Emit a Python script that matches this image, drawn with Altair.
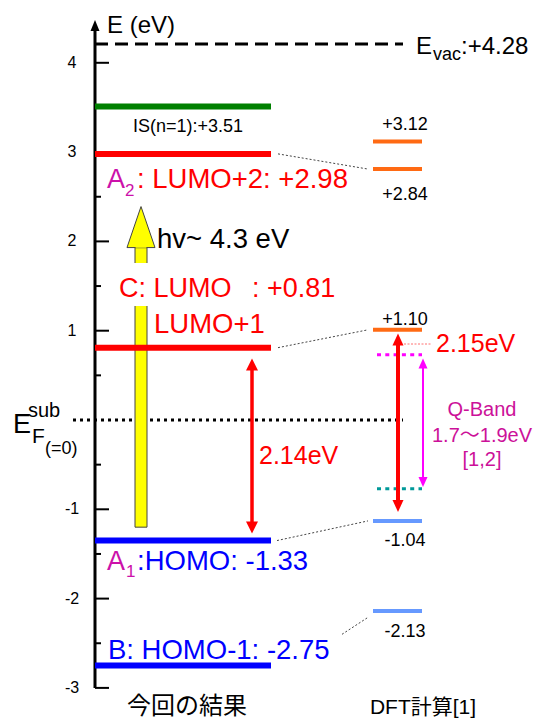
import altair as alt
import pandas as pd

# ---------------- data (energies in eV) ----------------
left_levels = ["IS(n=1)", "A2: LUMO+2", "C: LUMO / LUMO+1", "A1: HOMO", "B: HOMO-1"]
left_energy = [3.51, 2.98, 0.81, -1.35, -2.75]
left_colors = ["#008000", "#FF0000", "#FF0000", "#0000FF", "#0000FF"]
left_widths = [4, 6, 7, 6, 7]

dft_labels = ["+3.12", "+2.84", "+1.10", "-1.04", "-2.13"]
dft_energy = [3.12, 2.81, 1.01, -1.13, -2.14]
dft_colors = ["#FF6A13", "#FF6A13", "#FF6A13", "#6699FF", "#6699FF"]
dft_widths = [4, 4, 4, 5, 5]

evac_energy = 4.21
fermi_energy = 0.0
qband_levels = [0.73, -0.77]
qband_colors = ["#FF00FF", "#009999"]
gap_left = [0.69, -1.27]        # 2.14 eV arrow (tips)
gap_dft = [0.97, -1.03]         # 2.15 eV arrow (tips)
qband_arrow = [0.69, -0.75]     # Q-band arrow (tips)
photon = [-1.20, 1.93, 2.39]    # shaft bottom, head base, head tip
connect_from = [2.98, 0.81, -1.35, -2.40]
connect_to = [2.81, 1.01, -1.13, -2.21]
tick_major = [-3, -2, -1, 1, 2, 3, 4]
tick_minor = [-2.5, -1.5, -0.5, 0.5, 1.5, 2.5, 3.5]
axis_span = [-3.0, 4.37]
axis_tip = 4.48

# ---------------- layout ----------------
SANS = "'Liberation Sans', Arial, 'Noto Sans CJK JP', sans-serif"
CJK = "'Noto Sans CJK JP', sans-serif"
W, H = 527, 712
PX_PER_EV = 89.3
ZERO_PX = 412
YS = alt.Scale(domain=[(ZERO_PX - H) / PX_PER_EV, ZERO_PX / PX_PER_EV], nice=False, zero=False)


def X(px):
    return alt.value(px - 8)


def Yp(px):
    return alt.value(px - 8)


def Yf(field):
    return alt.Y(field, type="quantitative", scale=YS, axis=None)


def hlines(energies, x1, x2, color, width, dash=None, colors=None, widths=None):
    df = pd.DataFrame({"e": energies})
    kw = dict(strokeWidth=width)
    if dash is not None:
        kw["strokeDash"] = dash
    enc = dict(y=Yf("e"), x=X(x1), x2=X(x2))
    if colors is not None:
        df["c"] = colors
        enc["color"] = alt.Color("c:N", scale=None)
    else:
        kw["color"] = color
    if widths is not None:
        df["w"] = widths
        enc["strokeWidth"] = alt.StrokeWidth("w:Q", scale=None)
    return alt.Chart(df).mark_rule(**kw).encode(**enc)


def vline(e1, e2, x, color, width, off1=0, off2=0):
    df = pd.DataFrame({"a": [e1], "b": [e2]})
    return alt.Chart(df).mark_rule(color=color, strokeWidth=width, yOffset=off1, y2Offset=off2).encode(
        x=X(x), y=Yf("a"), y2=alt.Y2("b"))


def head(e, x, length, width, color, up=True, stroke=None):
    a = width / length
    s = 2 if up else -2
    path = f"M0,0L{a:.3f},{s}L{-a:.3f},{s}Z"
    kw = dict(shape=path, size=length ** 2, filled=True, fill=color, opacity=1)
    if stroke is not None:
        kw["stroke"] = stroke
        kw["strokeWidth"] = 1
    else:
        kw["strokeWidth"] = 0
    return alt.Chart(pd.DataFrame({"e": [e]})).mark_point(**kw).encode(x=X(x), y=Yf("e"))


def darrow(top, bot, x, color, lw, hl, hw):
    return [vline(top, bot, x, color, lw, off1=hl * 0.7, off2=-hl * 0.7),
            head(top, x, hl, hw, color, up=True),
            head(bot, x, hl, hw, color, up=False)]


def text(s, x, y_px=None, e=None, dy=0, size=27, color="black", align="left", font=SANS, weight="normal"):
    df = pd.DataFrame({"t": [s], "e": [e if e is not None else 0.0]})
    y = Yf("e") if e is not None else Yp(y_px)
    return alt.Chart(df).mark_text(align=align, baseline="alphabetic", dy=dy, fontSize=size, color=color,
                                   font=font, fontWeight=weight).encode(x=X(x), y=y, text="t:N")


layers = []

# Fermi level (dotted) and vacuum level (dashed)
layers.append(hlines([fermi_energy], 73, 403, "black", 3, dash=[3, 4]))
layers.append(hlines([evac_energy], 95, 403, "black", 3, dash=[13, 7]))

# energy axis
layers.append(vline(axis_span[0], axis_span[1], 95, "black", 3))
layers.append(head(axis_tip, 95, 11, 9, "black", up=True))
layers.append(hlines(tick_major, 95, 109, "black", 2))
layers.append(hlines(tick_minor, 95, 101, "black", 2))
tick_df = pd.DataFrame({"e": tick_major, "t": [str(v) for v in tick_major]})
layers.append(alt.Chart(tick_df).mark_text(align="center", baseline="middle", fontSize=16, font=SANS,
                                           color="black").encode(x=X(72), y=Yf("e"), text="t:N"))

# photon (yellow) arrow
layers.append(alt.Chart(pd.DataFrame({"a": [photon[0]], "b": [photon[1]]})).mark_rect(
    fill="#FFFF00", stroke="#444444", strokeWidth=1).encode(x=X(135), x2=X(147), y=Yf("a"), y2=alt.Y2("b")))
layers.append(head(photon[2], 141, 41, 28, "#FFFF00", up=True, stroke="#444444"))
layers.append(alt.Chart(pd.DataFrame({"a": [photon[1]]})).mark_rect(fill="#FFFF00").encode(
    x=X(135.6), x2=X(146.4), y=Yf("a"), y2=alt.value(248 - 8 - 3)))

# white background behind the C label
layers.append(alt.Chart(pd.DataFrame({"a": [0]})).mark_rect(fill="white").encode(
    x=X(112), x2=X(345), y=Yp(263), y2=Yp(306)))

# connectors between results and DFT
conn = pd.DataFrame({"a": connect_from, "b": connect_to, "x1": [278, 278, 277, 342]})
for i in range(len(connect_from)):
    d = conn.iloc[[i]]
    layers.append(alt.Chart(d).mark_rule(color="#444444", strokeWidth=1, strokeDash=[2, 2]).encode(
        x=X(float(d["x1"].iloc[0])), x2=X(368), y=Yf("a"), y2=alt.Y2("b")))

# Q-band dotted levels
layers.append(hlines(qband_levels, 377, 422, None, 3, dash=[4, 4.3], colors=qband_colors))

# levels
layers.append(hlines(left_energy, 95, 271, None, 6, colors=left_colors, widths=left_widths))
layers.append(hlines(dft_energy, 373, 422, None, 4, colors=dft_colors, widths=dft_widths))

# small dotted pointer for 2.15 eV
layers.append(alt.Chart(pd.DataFrame({"a": [0]})).mark_rule(color="#FF7070", strokeWidth=1, strokeDash=[2, 1.5]).encode(
    x=X(404), x2=X(432), y=Yp(344)))

# gap arrows
layers += darrow(gap_left[0], gap_left[1], 252, "#FF0000", 3.5, 12, 12)
layers += darrow(gap_dft[0], gap_dft[1], 398, "#FF0000", 4, 12, 11)
layers += darrow(qband_arrow[0], qband_arrow[1], 423, "#FF00FF", 2, 10, 9)

# ---------------- texts ----------------
RED, BLUE, MAG, QCOL = "#FF0000", "#0000FF", "#CC11AA", "#CC1199"
layers.append(text("E (eV)", 107, y_px=33, size=24))
layers.append(text("E", 416, e=evac_energy, dy=10, size=24))
layers.append(text("vac", 433, e=evac_energy, dy=16, size=18))
layers.append(text(":+4.28", 461, e=evac_energy, dy=10, size=24))

layers.append(text("E", 13, y_px=433, size=27))
layers.append(text("sub", 28, y_px=417, size=20))
layers.append(text("F", 32, y_px=443, size=21))
layers.append(text("(=0)", 45, y_px=454, size=18))

layers.append(text("IS(n=1):+3.51", 133, e=left_energy[0], dy=25, size=18))
layers.append(text("A", 107, e=left_energy[1], dy=34, size=27, color=MAG))
layers.append(text("2", 125, e=left_energy[1], dy=42, size=17, color=MAG))
layers.append(text(": LUMO+2: +2.98", 137, e=left_energy[1], dy=34, size=27.5, color=RED))
layers.append(text("hv~ 4.3 eV", 157, e=photon[1], dy=0, size=27.5))
layers.append(text("C: LUMO", 119, e=left_energy[2], dy=-51, size=27, color=RED))
layers.append(text(": +0.81", 252, e=left_energy[2], dy=-51, size=27, color=RED))
layers.append(text("LUMO+1", 154, e=left_energy[2], dy=-15, size=27.5, color=RED))
layers.append(text("A", 107, e=left_energy[3], dy=29, size=27, color=MAG))
layers.append(text("1", 126, e=left_energy[3], dy=36, size=17, color=MAG))
layers.append(text(":HOMO: -1.33", 137, e=left_energy[3], dy=29, size=27.5, color=BLUE))
layers.append(text("B: HOMO-1: -2.75", 108, e=left_energy[4], dy=-7, size=27.5, color=BLUE))
layers.append(text("2.14eV", 259, y_px=464, size=25, color=RED))
layers.append(text("2.15eV", 436, y_px=352, size=25, color=RED))

layers.append(text("Q-Band", 482, y_px=416, size=20, color=QCOL, align="center"))
layers.append(text("1.7〜1.9eV", 482, y_px=442, size=20, color=QCOL, align="center"))
layers.append(text("[1,2]", 482, y_px=466, size=20, color=QCOL, align="center"))

dft_dy = [-11, 31, -5, 25, 26]
for lab, e, d in zip(dft_labels, dft_energy, dft_dy):
    layers.append(text(lab, 405, e=e, dy=d, size=18, align="center"))

layers.append(text("今回の結果", 187, y_px=714, size=24, align="center", font=CJK))
layers.append(text("DFT計算[1]", 423, y_px=714, size=21, align="center", font=SANS))

chart = alt.layer(*layers).properties(
    width=W, height=H, autosize=alt.AutoSizeParams(type="none"), padding=0, background="white"
).configure_view(stroke=None)

chart.save("out.html", embed_options={"renderer": "svg", "actions": False})
